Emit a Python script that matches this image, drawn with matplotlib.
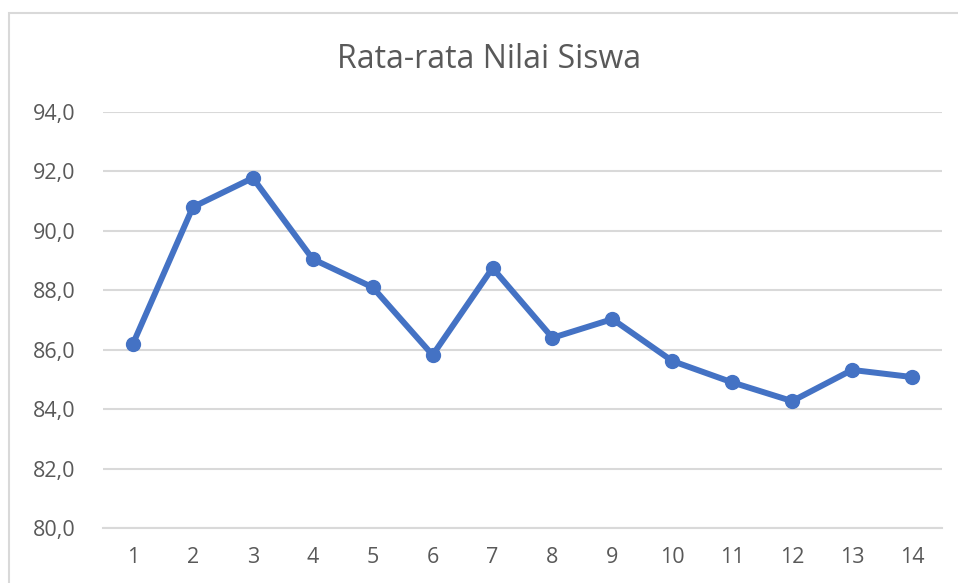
import matplotlib
matplotlib.use("Agg")
import matplotlib.pyplot as plt
from matplotlib.patches import Rectangle

categories = [str(i) for i in range(1, 15)]
values = [86.2, 90.8, 91.78, 89.05, 88.1, 85.82, 88.75, 86.4, 87.03, 85.62, 84.9, 84.27, 85.32, 85.08]
yticks = [80, 82, 84, 86, 88, 90, 92, 94]
title = "Rata-rata Nilai Siswa"

plt.rcParams['font.family'] = ['Open Sans', 'DejaVu Sans']
text_color = '#595959'
grid_color = '#D9D9D9'
line_color = '#4472C4'

fig = plt.figure(figsize=(9.58, 5.83), dpi=100)
fig.patch.set_facecolor('white')
# outer chart border (left and top visible)
fig.patches.append(Rectangle((9/958, -0.05), 1.1, 1 - 13/583 + 0.05, transform=fig.transFigure,
                             fill=False, edgecolor=grid_color, linewidth=1.5))

ax = fig.add_axes([103/958, 1 - 528/583, 839/958, (528 - 112)/583])
x = list(range(1, len(values) + 1))
ax.plot(x, values, color=line_color, linewidth=4.3, marker='o', markersize=10,
        solid_joinstyle='round', solid_capstyle='round', zorder=3)
ax.set_xlim(0.5, 14.5)
ax.set_ylim(80, 94)
ax.set_yticks(yticks)
ax.set_yticklabels([f"{v:.1f}".replace('.', ',') for v in yticks])
ax.set_xticks(x)
ax.set_xticklabels(categories)
for s in ['top', 'right', 'left']:
    ax.spines[s].set_visible(False)
ax.spines['bottom'].set_color(grid_color)
ax.spines['bottom'].set_linewidth(1.5)
ax.grid(axis='y', color=grid_color, linewidth=1.5)
ax.set_axisbelow(True)
ax.tick_params(axis='both', length=0, colors=text_color, labelsize=15.5)
ax.tick_params(axis='y', pad=20)
ax.tick_params(axis='x', pad=14)
fig.text(489/958, 1 - 59/583, title, ha='center', va='center', fontsize=23, color=text_color)

fig.savefig('out.png', dpi=100)
